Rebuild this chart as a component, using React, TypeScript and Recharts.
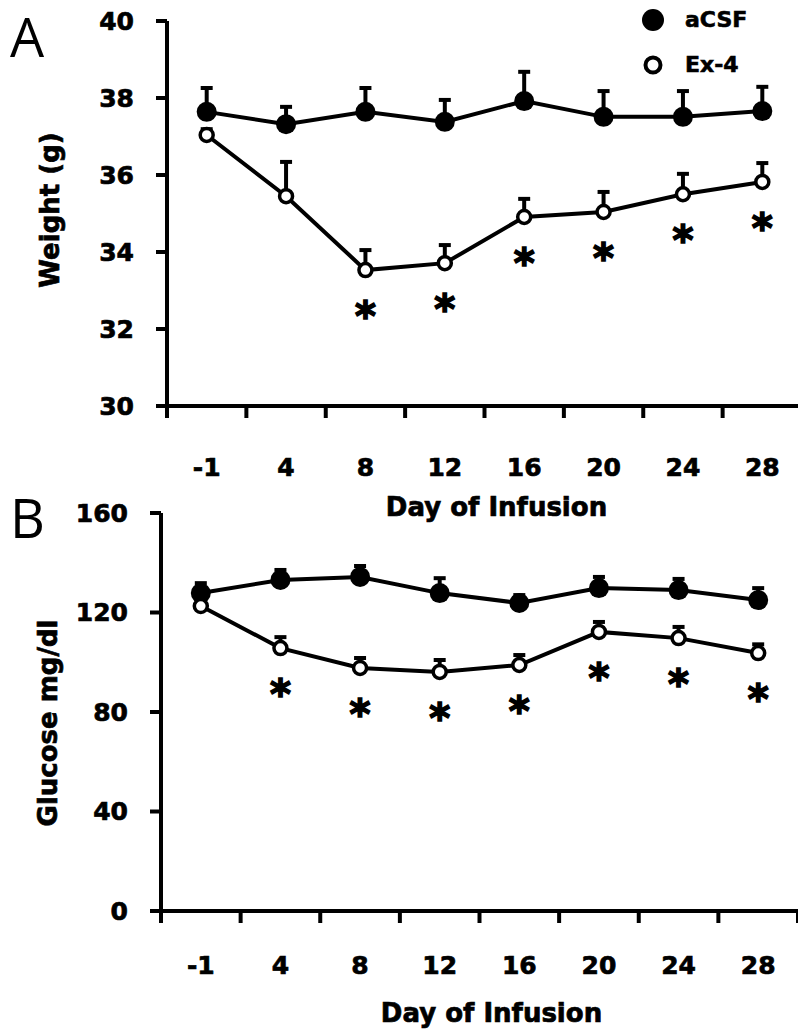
import { LineChart, Line, XAxis, YAxis, ErrorBar, LabelList, Label, Legend } from 'recharts';

const days = ['-1', '4', '8', '12', '16', '20', '24', '28'];

const weightAcsf = [37.64, 37.32, 37.64, 37.38, 37.92, 37.51, 37.51, 37.66];
const weightAcsfErr = [0.62, 0.45, 0.62, 0.57, 0.76, 0.67, 0.67, 0.63];
const weightEx4 = [37.04, 35.45, 33.53, 33.71, 34.91, 35.04, 35.5, 35.82];
const weightEx4Err = [0.15, 0.89, 0.52, 0.47, 0.47, 0.52, 0.53, 0.49];
const weightSig = [false, false, true, true, true, true, true, true];
const weightTicks = [30, 32, 34, 36, 38, 40];

const glucoseAcsf = [127.8, 133.1, 134.3, 127.8, 123.8, 129.8, 129.0, 125.0];
const glucoseAcsfErr = [4, 4, 4.4, 6, 3.2, 4.5, 4.5, 4.8];
const glucoseEx4 = [122.6, 105.7, 97.7, 96.1, 98.9, 112.2, 109.7, 103.7];
const glucoseEx4Err = [3, 4.4, 4, 4.8, 4, 4, 4.5, 3.5];
const glucoseSig = [false, true, true, true, true, true, true, true];
const glucoseTicks = [0, 40, 80, 120, 160];

const FONT = '"DejaVu Sans", sans-serif';
// tick positions: integers are band edges (tick marks), halves are band centres (labels)
const xTicks = Array.from({ length: 17 }, (_, i) => i / 2);

const build = (acsf: number[], acsfErr: number[], ex4: number[], ex4Err: number[], sig: boolean[]) =>
  days.map((d, i) => ({
    x: i + 0.5,
    day: d,
    acsf: acsf[i],
    acsfErr: [0, acsfErr[i]],
    ex4: ex4[i],
    ex4Err: [0, ex4Err[i]],
    star: sig[i] ? '*' : '',
  }));

const weightData = build(weightAcsf, weightAcsfErr, weightEx4, weightEx4Err, weightSig);
const glucoseData = build(glucoseAcsf, glucoseAcsfErr, glucoseEx4, glucoseEx4Err, glucoseSig);

// heavier text, closer to the bold look of the original figure
const heavy = { stroke: '#000', strokeWidth: 0.7, paintOrder: 'stroke' } as const;

const makeXTick = (gap: number) => (props: any) => {
  const { x, y, payload } = props;
  const v = payload.value;
  if (Number.isInteger(v)) {
    return <line x1={x} y1={y} x2={x} y2={y + 12} stroke="#000" strokeWidth={4} />;
  }
  return (
    <text x={x} y={y + gap} textAnchor="middle" dominantBaseline="central" fontFamily={FONT} fontWeight="bold" fontSize={25} fill="#000" {...heavy}>
      {days[Math.floor(v)]}
    </text>
  );
};

const Star = (props: any) => {
  const { x, y, value } = props;
  if (!value) return null;
  return (
    <text x={x} y={y + 60} textAnchor="middle" fontFamily={FONT} fontWeight="bold" fontSize={40} fill="#000" stroke="#000" strokeWidth={1.6}>
      {value}
    </text>
  );
};

const LegendBox = () => (
  <div style={{ position: 'relative', width: 140, height: 90, fontFamily: FONT, fontWeight: 'bold', fontSize: 22, WebkitTextStroke: '0.6px #000' }}>
    <svg width={30} height={90} style={{ position: 'absolute', left: 0, top: 0 }}>
      <circle cx={13} cy={20} r={11} fill="#000" />
      <circle cx={13} cy={65} r={7.5} fill="#fff" stroke="#000" strokeWidth={4} />
    </svg>
    <div style={{ position: 'absolute', left: 45, top: 6, lineHeight: '28px' }}>aCSF</div>
    <div style={{ position: 'absolute', left: 45, top: 51, lineHeight: '28px' }}>Ex-4</div>
  </div>
);

const yLabel = (text: string, cx: number, cy: number) => () => (
  <text x={cx} y={cy} transform={`rotate(-90 ${cx} ${cy})`} textAnchor="middle" dominantBaseline="central" fontFamily={FONT} fontWeight="bold" fontSize={26} fill="#000" {...heavy}>
    {text}
  </text>
);

const xLabel = (gap: number) => (props: any) => {
  const { viewBox } = props;
  const cx = viewBox.x + viewBox.width / 2 + 12;
  return (
    <text x={cx} y={viewBox.y + gap} textAnchor="middle" dominantBaseline="central" fontFamily={FONT} fontWeight="bold" fontSize={26} fill="#000" {...heavy}>
      Day of Infusion
    </text>
  );
};

const axisStroke = { stroke: '#000', strokeWidth: 4 };
const yTickStyle = { fontFamily: FONT, fontWeight: 'bold', fontSize: 25, fill: '#000', ...heavy };

function Panel({ data, domain, ticks, yWidth, height, top, bottom, right, labelGap, titleGap, yTitle, yTitlePos, legend }: any) {
  return (
    <LineChart width={798} height={height} data={data} margin={{ top, right, bottom, left: 0 }} style={{ overflow: 'visible' }}>
      <XAxis
        type="number"
        dataKey="x"
        domain={[0, 8]}
        ticks={xTicks}
        interval={0}
        height={60}
        tickSize={0}
        tickMargin={0}
        tickLine={false}
        axisLine={axisStroke}
        tick={makeXTick(labelGap)}
      >
        <Label content={xLabel(titleGap)} />
      </XAxis>
      <YAxis
        type="number"
        domain={domain}
        ticks={ticks}
        interval={0}
        width={yWidth}
        tickSize={11}
        tickMargin={22}
        axisLine={axisStroke}
        tickLine={axisStroke}
        tick={yTickStyle}
      >
        <Label content={yLabel(yTitle, yTitlePos[0], yTitlePos[1])} />
      </YAxis>
      {legend && (
        <Legend layout="vertical" align="center" verticalAlign="middle" content={LegendBox} wrapperStyle={{ left: 640, top: 0, width: 'auto' }} />
      )}
      <Line dataKey="acsf" stroke="#000" strokeWidth={4} isAnimationActive={false} dot={{ r: 10, fill: '#000', stroke: '#000', strokeWidth: 0 }} activeDot={false}>
        <ErrorBar dataKey="acsfErr" direction="y" width={6} stroke="#000" strokeWidth={4} />
      </Line>
      <Line dataKey="ex4" stroke="#000" strokeWidth={4} isAnimationActive={false} dot={{ r: 6.5, fill: '#fff', stroke: '#000', strokeWidth: 3.5 }} activeDot={false}>
        <ErrorBar dataKey="ex4Err" direction="y" width={6} stroke="#000" strokeWidth={4} />
        <LabelList dataKey="star" content={Star} />
      </Line>
    </LineChart>
  );
}

export default function App() {
  return (
    <div style={{ position: 'absolute', left: 0, top: 0, width: 798, height: 1036, background: '#fff', overflow: 'hidden' }}>
      <div style={{ position: 'absolute', left: 0, top: 0 }}>
        <Panel
          data={weightData}
          domain={[30, 40]}
          ticks={weightTicks}
          yWidth={167}
          height={530}
          top={21}
          bottom={64}
          right={-4}
          labelGap={61}
          titleGap={101}
          yTitle="Weight (g)"
          yTitlePos={[50, 210]}
          legend
        />
      </div>
      <div style={{ position: 'absolute', left: 0, top: 500 }}>
        <Panel
          data={glucoseData}
          domain={[0, 160]}
          ticks={glucoseTicks}
          yWidth={161}
          height={536}
          top={13}
          bottom={65}
          right={0}
          labelGap={54}
          titleGap={102}
          yTitle="Glucose mg/dl"
          yTitlePos={[48, 223]}
        />
      </div>
      <div style={{ position: 'absolute', left: 10, top: 6, fontFamily: '"Open Sans", sans-serif', fontSize: 54, lineHeight: '60px', color: '#000' }}>A</div>
      <div style={{ position: 'absolute', left: 10, top: 487, fontFamily: '"Open Sans", sans-serif', fontSize: 54, lineHeight: '60px', color: '#000' }}>B</div>
    </div>
  );
}
